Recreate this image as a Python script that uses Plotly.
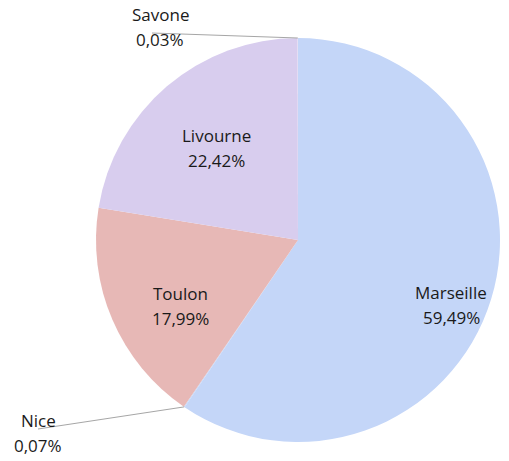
import math
import plotly.graph_objects as go

labels = ["Marseille", "Nice", "Toulon", "Livourne", "Savone"]
values = [59.49, 0.07, 17.99, 22.42, 0.03]
colors = ["#c4d6f8", "#c4d6f8", "#e7b8b6", "#d8cdee", "#e4dcf2"]

W, H = 509, 461
cx, cy, R = 298, 240, 202  # pie placement in pixels

# label block centres (pixels) and leader-line ends for small slices
label_pos = {
    "Marseille": (451, 305),
    "Nice": (38, 433),
    "Toulon": (180, 306),
    "Livourne": (216, 148),
    "Savone": (160, 27),
}
leader_end = {"Savone": (152, 33), "Nice": (38, 429)}
LINE_GAP = 25

FONT = dict(family="Open Sans", size=17, color="#1a1a1a")

def px(x):
    return x / W

def py(y):
    return 1 - y / H

fig = go.Figure(go.Pie(
    labels=labels,
    values=values,
    sort=False,
    direction="clockwise",
    rotation=0,
    marker=dict(colors=colors, line=dict(width=0)),
    textinfo="none",
    domain=dict(x=[px(cx - R), px(cx + R)], y=[py(cy + R), py(cy - R)]),
    showlegend=False,
    hoverinfo="label+value",
))

total = sum(values)
cum = 0
for l, v in zip(labels, values):
    mid = (cum + v / 2) / total * 2 * math.pi
    cum += v
    if l in leader_end:
        ex, ey = cx + R * math.sin(mid), cy - R * math.cos(mid)
        tx, ty = leader_end[l]
        fig.add_shape(type="line", xref="paper", yref="paper",
                      x0=px(ex), y0=py(ey), x1=px(tx), y1=py(ty),
                      line=dict(color="#a6a6a6", width=1))
    ax, ay = label_pos[l]
    lines = [l, f"{v:.2f}%".replace(".", ",")]
    for i, t in enumerate(lines):
        fig.add_annotation(xref="paper", yref="paper",
                           x=px(ax), y=py(ay + (i - 0.5) * LINE_GAP),
                           text=t, showarrow=False,
                           xanchor="center", yanchor="middle", font=FONT)

fig.update_layout(
    width=W, height=H,
    margin=dict(l=0, r=0, t=0, b=0),
    paper_bgcolor="white",
    plot_bgcolor="white",
)
fig.write_html("out.html", config={"displayModeBar": False},
               post_script="document.body.style.margin='0';")
